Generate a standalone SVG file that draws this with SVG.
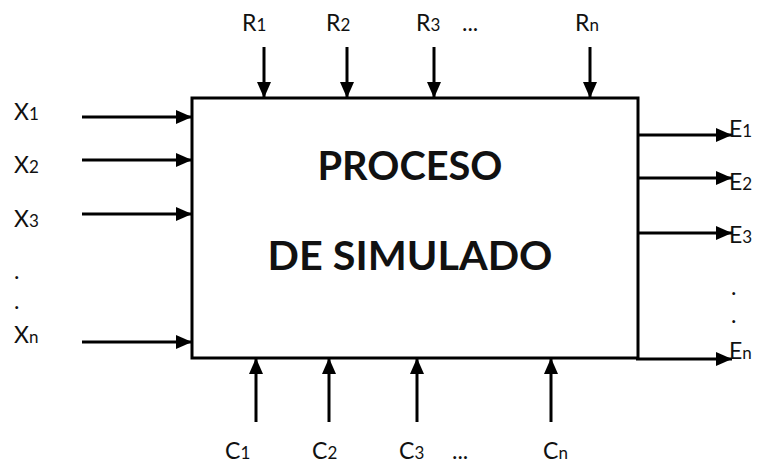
<svg xmlns="http://www.w3.org/2000/svg" width="757" height="465" viewBox="0 0 757 465">
<defs>
<marker id="ah" markerUnits="userSpaceOnUse" markerWidth="16" markerHeight="14" viewBox="0 0 16 14" refX="16" refY="7" orient="auto">
<path d="M0,0 L16,7 L0,14 Z" fill="#000"/>
</marker>
<style>
.c{stroke:#000;stroke-width:3;fill:none;marker-end:url(#ah)}
.box{stroke:#000;stroke-width:3;fill:#fff}
.t{font-family:Lato,"Open Sans","Liberation Sans",sans-serif;font-size:23px;fill:#111}
.s{font-size:17px}
.title{font-family:Lato,"Open Sans","Liberation Sans",sans-serif;font-weight:bold;font-size:40px;fill:#111;text-anchor:middle}
</style>
</defs>
<g id="proceso">
<rect class="box" x="192" y="98" width="446" height="260"/>
<text class="title" x="410" y="180" textLength="185" lengthAdjust="spacingAndGlyphs">PROCESO</text>
<text class="title" x="410" y="270" textLength="285" lengthAdjust="spacingAndGlyphs">DE SIMULADO</text>
</g>
<g id="connectors">
<line class="c" x1="264" y1="47" x2="264" y2="98"/>
<line class="c" x1="347" y1="47" x2="347" y2="98"/>
<line class="c" x1="434" y1="47" x2="434" y2="98"/>
<line class="c" x1="590" y1="47" x2="590" y2="98"/>
<line class="c" x1="82" y1="117" x2="192" y2="117"/>
<line class="c" x1="82" y1="160" x2="192" y2="160"/>
<line class="c" x1="82" y1="214" x2="192" y2="214"/>
<line class="c" x1="82" y1="342" x2="192" y2="342"/>
<line class="c" x1="638" y1="135" x2="732" y2="135"/>
<line class="c" x1="638" y1="178" x2="732" y2="178"/>
<line class="c" x1="638" y1="233" x2="732" y2="233"/>
<line class="c" x1="636" y1="359" x2="732" y2="359"/>
<line class="c" x1="256" y1="422" x2="256" y2="358"/>
<line class="c" x1="329" y1="422" x2="329" y2="358"/>
<line class="c" x1="417" y1="422" x2="417" y2="358"/>
<line class="c" x1="551" y1="422" x2="551" y2="358"/>
</g>
<g id="labels-r">
<text class="t" x="242" y="31">R<tspan class="s">1</tspan></text>
<text class="t" x="326" y="31">R<tspan class="s">2</tspan></text>
<text class="t" x="416" y="31">R<tspan class="s">3</tspan></text>
<text class="t" x="462" y="31">...</text>
<text class="t" x="575" y="31">R<tspan class="s">n</tspan></text>
</g>
<g id="labels-x">
<text class="t" x="14" y="120">X<tspan class="s">1</tspan></text>
<text class="t" x="14" y="173">X<tspan class="s">2</tspan></text>
<text class="t" x="14" y="227">X<tspan class="s">3</tspan></text>
<text class="t" x="14" y="279">.</text>
<text class="t" x="14" y="309">.</text>
<text class="t" x="14" y="343">X<tspan class="s">n</tspan></text>
</g>
<g id="labels-e">
<text class="t" x="729" y="137">E<tspan class="s">1</tspan></text>
<text class="t" x="729" y="190">E<tspan class="s">2</tspan></text>
<text class="t" x="729" y="243">E<tspan class="s">3</tspan></text>
<text class="t" x="731" y="295">.</text>
<text class="t" x="731" y="323">.</text>
<text class="t" x="729" y="359">E<tspan class="s">n</tspan></text>
</g>
<g id="labels-c">
<text class="t" x="225" y="459">C<tspan class="s">1</tspan></text>
<text class="t" x="312" y="459">C<tspan class="s">2</tspan></text>
<text class="t" x="399" y="459">C<tspan class="s">3</tspan></text>
<text class="t" x="452" y="459">...</text>
<text class="t" x="543" y="459">C<tspan class="s">n</tspan></text>
</g>
</svg>
